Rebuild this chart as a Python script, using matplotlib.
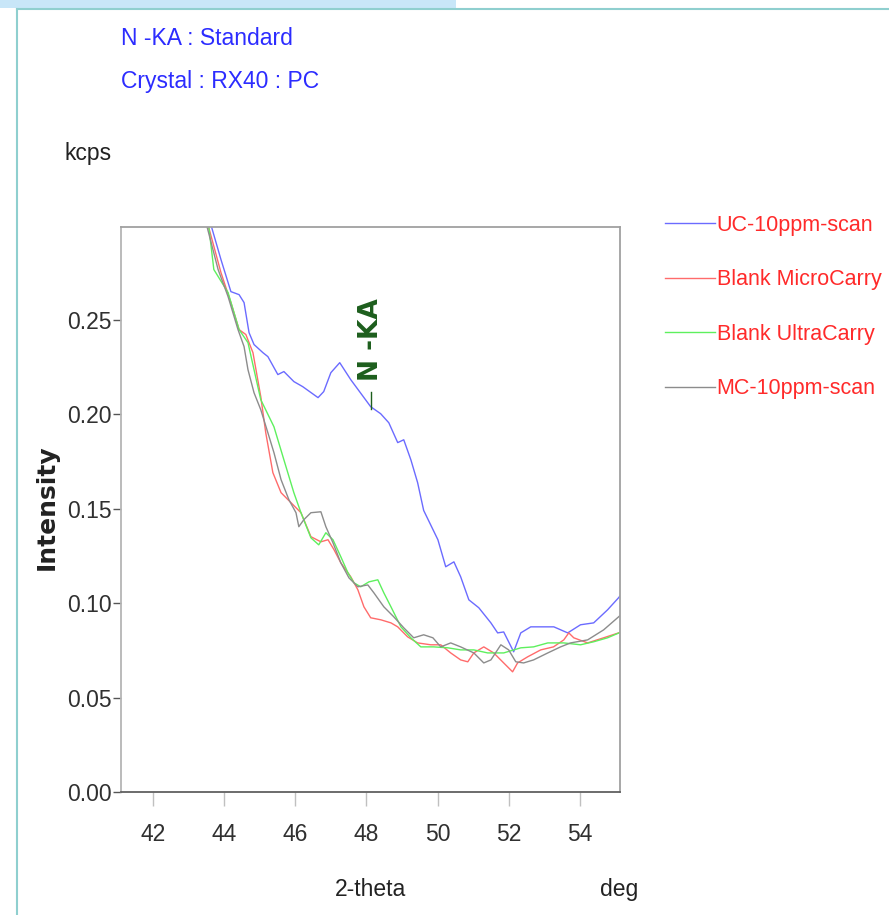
import matplotlib.pyplot as plt
from matplotlib.lines import Line2D
from matplotlib.patches import Rectangle

# Data (2-theta in deg, intensity in kcps)
uc10_x = [43.60, 43.91, 44.19, 44.42, 44.56, 44.70, 44.84, 45.09, 45.23, 45.51, 45.68,
          45.96, 46.21, 46.64, 46.80, 47.00, 47.25, 47.56, 48.12, 48.40, 48.63, 48.88,
          49.05, 49.25, 49.44, 49.61, 50.01, 50.23, 50.46, 50.65, 50.88, 51.16, 51.50,
          51.69, 51.86, 52.14, 52.34, 52.62, 53.10, 53.27, 53.66, 54.02, 54.39, 54.78,
          55.09, 55.14]
uc10_y = [0.302, 0.2818, 0.2648, 0.2632, 0.2590, 0.2431, 0.2368, 0.2325, 0.2304, 0.2209, 0.2225,
          0.2172, 0.2145, 0.2087, 0.2119, 0.2219, 0.2272, 0.2182, 0.2039, 0.2002, 0.1954, 0.1849,
          0.1864, 0.1758, 0.1637, 0.1490, 0.1335, 0.1192, 0.1218, 0.1139, 0.1017, 0.0975, 0.0895,
          0.0842, 0.0847, 0.0742, 0.0842, 0.0874, 0.0874, 0.0874, 0.0842, 0.0885, 0.0895, 0.0964,
          0.1028, 0.1040]

blank_mc_x = [43.52, 43.91, 44.19, 44.42, 44.61, 44.81, 45.03, 45.17, 45.37, 45.60, 45.88,
              46.16, 46.44, 46.72, 46.92, 47.09, 47.28, 47.56, 47.76, 47.93, 48.12, 48.41,
              48.69, 48.88, 49.16, 49.44, 49.81, 50.09, 50.37, 50.65, 50.85, 51.02, 51.30,
              51.58, 51.86, 52.11, 52.25, 52.53, 52.90, 53.26, 53.55, 53.69, 53.83, 54.22,
              54.67, 55.14]
blank_mc_y = [0.302, 0.2749, 0.2590, 0.2447, 0.2421, 0.2325, 0.2092, 0.1901, 0.1690, 0.1584, 0.1531,
              0.1478, 0.1351, 0.1324, 0.1335, 0.1282, 0.1213, 0.1139, 0.1070, 0.0980, 0.0922, 0.0911,
              0.0895, 0.0874, 0.0821, 0.0789, 0.0779, 0.0779, 0.0736, 0.0699, 0.0689, 0.0736, 0.0768,
              0.0736, 0.0683, 0.0636, 0.0683, 0.0715, 0.0752, 0.0768, 0.0805, 0.0842, 0.0816, 0.0789,
              0.0816, 0.0845]

blank_uc_x = [43.55, 43.71, 44.11, 44.42, 44.67, 44.84, 45.03, 45.40, 45.68, 45.96, 46.16,
              46.44, 46.66, 46.86, 47.06, 47.28, 47.48, 47.65, 47.84, 48.07, 48.32, 48.49,
              48.69, 48.97, 49.25, 49.53, 49.89, 50.29, 50.65, 51.02, 51.41, 51.86, 52.34,
              52.70, 53.10, 53.55, 54.02, 54.39, 54.78, 55.14]
blank_uc_y = [0.302, 0.2765, 0.2643, 0.2447, 0.2378, 0.2235, 0.2076, 0.1933, 0.1758, 0.1584, 0.1478,
              0.1345, 0.1308, 0.1372, 0.1335, 0.1245, 0.1160, 0.1107, 0.1086, 0.1112, 0.1123, 0.1054,
              0.0980, 0.0874, 0.0816, 0.0768, 0.0768, 0.0763, 0.0752, 0.0752, 0.0736, 0.0736, 0.0763,
              0.0768, 0.0789, 0.0789, 0.0779, 0.0795, 0.0816, 0.0845]

mc10_x = [43.48, 43.83, 44.11, 44.39, 44.56, 44.67, 44.84, 45.03, 45.23, 45.40, 45.60,
          45.82, 46.02, 46.10, 46.24, 46.44, 46.72, 46.86, 47.06, 47.28, 47.51, 47.76,
          48.04, 48.21, 48.49, 48.77, 49.05, 49.33, 49.61, 49.87, 50.09, 50.37, 50.65,
          51.02, 51.30, 51.50, 51.78, 52.00, 52.20, 52.42, 52.70, 53.10, 53.46, 53.74,
          54.22, 54.67, 55.14]
mc10_y = [0.302, 0.2765, 0.2622, 0.2447, 0.2357, 0.2235, 0.2113, 0.2023, 0.1901, 0.1796, 0.1653,
          0.1547, 0.1478, 0.1404, 0.1441, 0.1478, 0.1483, 0.1404, 0.1319, 0.1213, 0.1133, 0.1086,
          0.1096, 0.1054, 0.0980, 0.0927, 0.0869, 0.0816, 0.0832, 0.0816, 0.0768, 0.0789, 0.0768,
          0.0736, 0.0683, 0.0699, 0.0779, 0.0752, 0.0689, 0.0683, 0.0699, 0.0736, 0.0768, 0.0789,
          0.0805, 0.0858, 0.0935]

series_labels = ["UC-10ppm-scan", "Blank MicroCarry", "Blank UltraCarry", "MC-10ppm-scan"]
series_colors = ["#6b6bff", "#ff6b6b", "#5ef05e", "#8c8c8c"]
x_ticks = [42, 44, 46, 48, 50, 52, 54]
y_ticks = [0.00, 0.05, 0.10, 0.15, 0.20, 0.25]

font = ["Liberation Sans", "DejaVu Sans"]
fsize = 16.5
text_gray = "#303030"

fig = plt.figure(figsize=(8.89, 9.15), dpi=100)
ax = fig.add_axes([121 / 889, 123 / 915, 499 / 889, 565 / 915])

# window frame bits around the screenshot
fig.add_artist(Rectangle((0, 1 - 8 / 915), 456 / 889, 8 / 915, transform=fig.transFigure,
                         color="#c8e6f8", lw=0))
fig.add_artist(Line2D([17 / 889, 1], [1 - 9 / 915, 1 - 9 / 915], transform=fig.transFigure,
                      color="#8fcfcf", lw=1.5))
fig.add_artist(Line2D([17 / 889, 17 / 889], [0, 1 - 9 / 915], transform=fig.transFigure,
                      color="#8fcfcf", lw=1.5))

all_x = [uc10_x, blank_mc_x, blank_uc_x, mc10_x]
all_y = [uc10_y, blank_mc_y, blank_uc_y, mc10_y]
for xs, ys, lab, col in zip(all_x, all_y, series_labels, series_colors):
    ax.plot(xs, ys, color=col, lw=1.0, label=lab)

ax.set_xlim(41.1, 55.13)
ax.set_ylim(0, 0.299)
ax.set_xticks(x_ticks)
ax.set_yticks(y_ticks)
ax.set_xticklabels([str(t) for t in x_ticks])
ax.set_yticklabels([f"{t:.2f}" for t in y_ticks])
for lbl in ax.get_xticklabels() + ax.get_yticklabels():
    lbl.set_family(font)
    lbl.set_fontsize(fsize)
    lbl.set_color(text_gray)
ax.tick_params(axis="y", length=6, width=1, color="#555555", pad=1)
ax.tick_params(axis="x", length=10, width=1, color="#c0c0c0", pad=12)

ax.spines["left"].set_color("#b5b5b5")
ax.spines["top"].set_color("#a0a0a0")
ax.spines["right"].set_color("#a0a0a0")
ax.spines["bottom"].set_color("#606060")
for s in ax.spines.values():
    s.set_linewidth(1.3)

# peak marker
ax.plot([48.12, 48.12], [0.2025, 0.2115], color="#1d5e1d", lw=1.0)
ax.text(48.12, 0.2175, "N -KA", rotation=90, ha="center", va="bottom",
        color="#1d5e1d", fontsize=19, fontweight="bold")

# texts
fig.text(121 / 889, 1 - 45 / 915, "N -KA : Standard", family=font, fontsize=fsize,
         color="#2c2cff", va="baseline")
fig.text(121 / 889, 1 - 88 / 915, "Crystal : RX40 : PC", family=font, fontsize=fsize,
         color="#2c2cff", va="baseline")
fig.text(65 / 889, 1 - 160 / 915, "kcps", family=font, fontsize=fsize, color="#222222",
         va="baseline")
fig.text(47 / 889, 1 - 507 / 915, "Intensity", rotation=90, ha="center", va="center",
         fontsize=18, fontweight="bold", color="#222222")
fig.text(371 / 889, 1 - 896 / 915, "2-theta", family=font, fontsize=fsize, color="#222222",
         ha="center", va="baseline")
fig.text(619 / 889, 1 - 896 / 915, "deg", family=font, fontsize=fsize, color="#222222",
         ha="center", va="baseline")

leg = ax.legend(loc="upper left", bbox_to_anchor=(665 / 889, 1 - 215 / 915),
                bbox_transform=fig.transFigure, frameon=False, borderpad=0,
                borderaxespad=0, handlelength=2.3, handletextpad=0.1,
                labelspacing=1.55, prop={"family": font, "size": 15.5})
for t in leg.get_texts():
    t.set_color("#ff2a2a")

fig.savefig("out.png", dpi=100)
